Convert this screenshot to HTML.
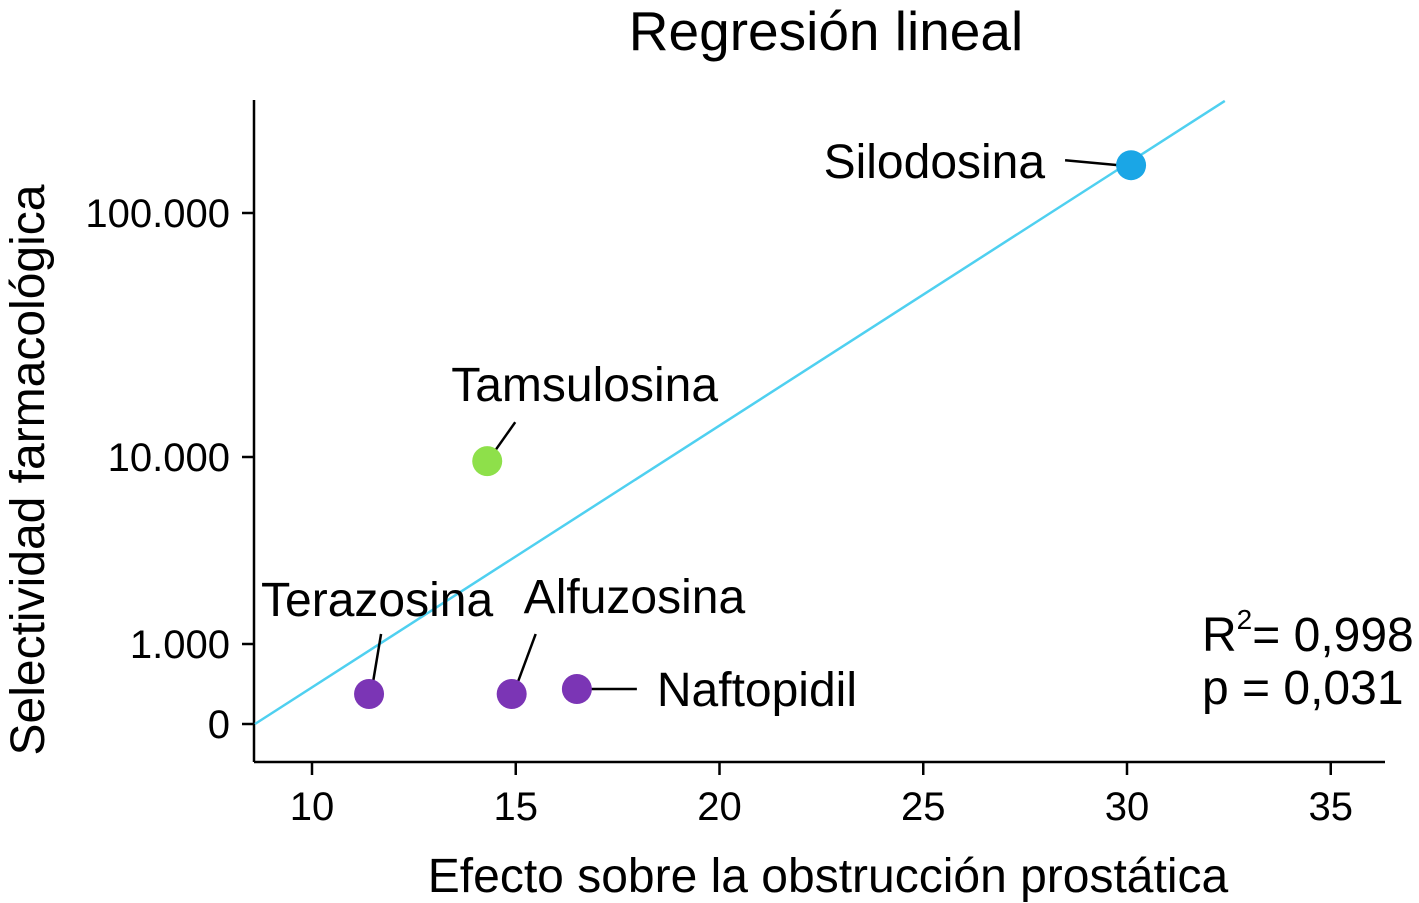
<!DOCTYPE html>
<html><head><meta charset="utf-8"><style>
body{margin:0;background:#fff}
svg{display:block;font-family:"Liberation Sans",Arial,sans-serif}
</style></head><body>
<svg id="c" width="1419" height="903">
<text x="826" y="50" font-size="55" text-anchor="middle">Regresión lineal</text>
<text transform="translate(44,470) rotate(-90)" font-size="48" text-anchor="middle">Selectividad farmacológica</text>
<text x="828" y="892" font-size="48" text-anchor="middle">Efecto sobre la obstrucción prostática</text>
<line x1="254" y1="100" x2="254" y2="762" stroke="#000" stroke-width="2.5"/>
<line x1="254" y1="762" x2="1385" y2="762" stroke="#000" stroke-width="2.5"/>
<g id="g"></g>
<text x="1202" y="651" font-size="48">R<tspan dy="-22" font-size="28">2</tspan><tspan dy="22">= 0,998</tspan></text>
<text x="1202" y="704" font-size="48">p = 0,031</text>
</svg>
<script>
const xTicks=[10,15,20,25,30,35];
const yTicks=[0,1000,10000,100000];
const yTickLabels=["0","1.000","10.000","100.000"];
const drugs=["Silodosina","Tamsulosina","Terazosina","Alfuzosina","Naftopidil"];
const effect=[30.1,14.3,11.4,14.9,16.5];
const selectivity=[157000,9500,375,375,437];
const colors=["#1aa6e6","#8ee04a","#7b35b5","#7b35b5","#7b35b5"];
const regX=[8.6,32.4];
const regY=[0,288000];
const NS="http://www.w3.org/2000/svg";
const g=document.getElementById('g');
function X(v){return 312+(v-10)*40.75;}
function Y(v){
  if(v<=1000) return 724-v/1000*80;
  const l=Math.log10(v);
  if(l<=4) return 644-(l-3)*187;
  return 457-(l-4)*244;
}
function el(t,a){const e=document.createElementNS(NS,t);for(const k in a)e.setAttribute(k,a[k]);g.appendChild(e);return e;}
xTicks.forEach(v=>{
  const t=el('line',{x1:X(v),x2:X(v),y1:762,y2:775,stroke:'#000','stroke-width':2.5});
  
  
  const l=el('text',{x:X(v),y:820,'font-size':40,'text-anchor':'middle'});l.textContent=v;
  
  
});
yTicks.forEach((v,i)=>{
  const t=el('line',{x1:242,x2:254,y1:Y(v),y2:Y(v),stroke:'#000','stroke-width':2.5});
  
  
  const l=el('text',{x:230,y:Y(v)+14,'font-size':40,'text-anchor':'end'});l.textContent=yTickLabels[i];
  
  
});
const rl=el('line',{x1:X(regX[0]),y1:Y(regY[0]),x2:X(regX[1]),y2:Y(regY[1]),stroke:'#4fd0f0','stroke-width':2.5});


const lab=[
 {dx:-86,dy:13,a:'end',l:[-66,-5,-12,0]},
 {dx:-36,dy:-60,a:'start',l:[28,-39,4,-5]},
 {dx:-108,dy:-78,a:'start',l:[12,-60,3,-6]},
 {dx:12,dy:-81,a:'start',l:[24,-60,4,-6]},
 {dx:80,dy:17,a:'start',l:[12,0,60,0]}
];
drugs.forEach((d,i)=>{
  const cx=X(effect[i]),cy=Y(selectivity[i]),o=lab[i];
  const ln=el('line',{x1:cx+o.l[0],y1:cy+o.l[1],x2:cx+o.l[2],y2:cy+o.l[3],stroke:'#000','stroke-width':2.5});
  
  
  const c=el('circle',{cx:cx,cy:cy,r:15,fill:colors[i]});
  
  
  const t=el('text',{x:cx+o.dx,y:cy+o.dy,'font-size':48,'text-anchor':o.a});t.textContent=d;
  
  
});
</script>
</body></html>
